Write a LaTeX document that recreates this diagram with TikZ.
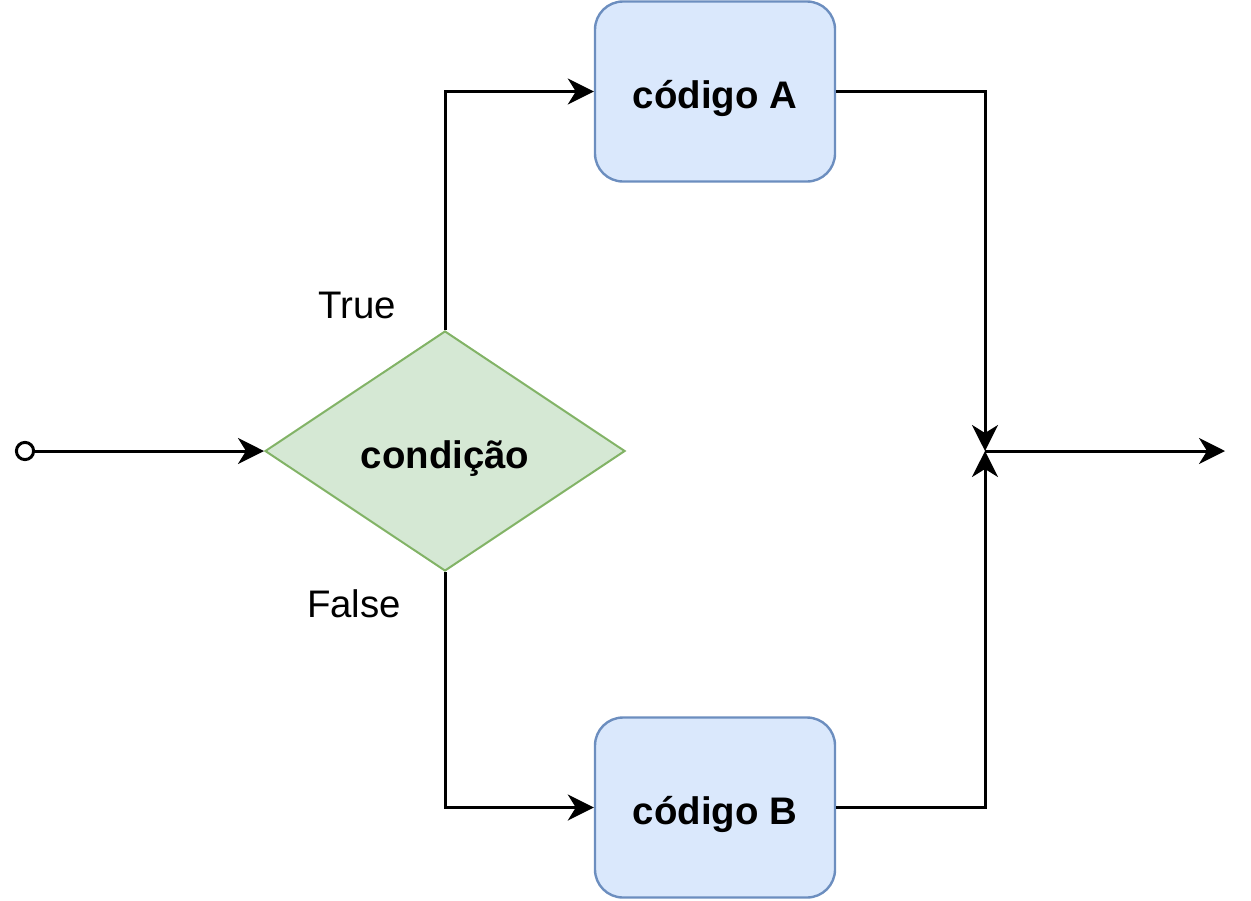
\documentclass[tikz,border=0pt]{standalone}
\usepackage{fontspec}
\setmainfont{Liberation Sans}
\usepackage{xcolor}
\usepackage{tikz}
\usetikzlibrary{shapes.geometric,arrows.meta,positioning}
\tikzset{>={Stealth[length=6.5pt,width=6.5pt,inset=2pt]}}
\definecolor{condfill}{HTML}{D5E8D4}
\definecolor{conddraw}{HTML}{82B366}
\definecolor{codefill}{HTML}{DAE8FC}
\definecolor{codedraw}{HTML}{6C8EBF}

\begin{document}
\begin{tikzpicture}[
x=0.25pt, y=-0.25pt,
font=\fontsize{9.6pt}{11.5pt}\selectfont,
txt/.style={text height=1.06em, text depth=0.2em},
codebox/.style={rectangle, rounded corners=7pt, align=center, draw=codedraw, fill=codefill, line width=0.6pt, minimum width=60pt, minimum height=45pt, txt, font=\fontsize{9.6pt}{11.5pt}\selectfont\bfseries},
condbox/.style={diamond, aspect=1.5, inner sep=0pt, draw=conddraw, fill=condfill, line width=0.5pt, minimum width=90pt, minimum height=60pt, txt, font=\fontsize{9.6pt}{11.5pt}\selectfont\bfseries},
startdot/.style={circle, draw, fill=white, line width=0.75pt, inner sep=0pt, minimum size=4.3pt},
flow/.style={->, line width=0.75pt},
]
\useasboundingbox (0,0) rectangle (1251,900);
%Nodes
\node[condbox](condicao) at (445,451){condição};
\node[startdot](inicio) at (25,451){};
\node[codebox](codigo A) at (715,91.5){código A};
\node[codebox](codigo B) at (715,807.5){código B};
\coordinate (juncao) at (985,451);
\coordinate (saida) at (1225,451);
\node[txt] (True) at (357,301){True};
\node[txt] (False) at (354,600){False};

%Lines
\draw[flow] (inicio) -- (condicao);
\draw[flow] (condicao.north) |- (codigo A);
\draw[flow] (condicao.south) |- (codigo B);
\draw[flow] (codigo A) -| (juncao);
\draw[flow] (codigo B) -| (juncao);
\draw[flow] (juncao) -- (saida);
\end{tikzpicture}
\end{document}
